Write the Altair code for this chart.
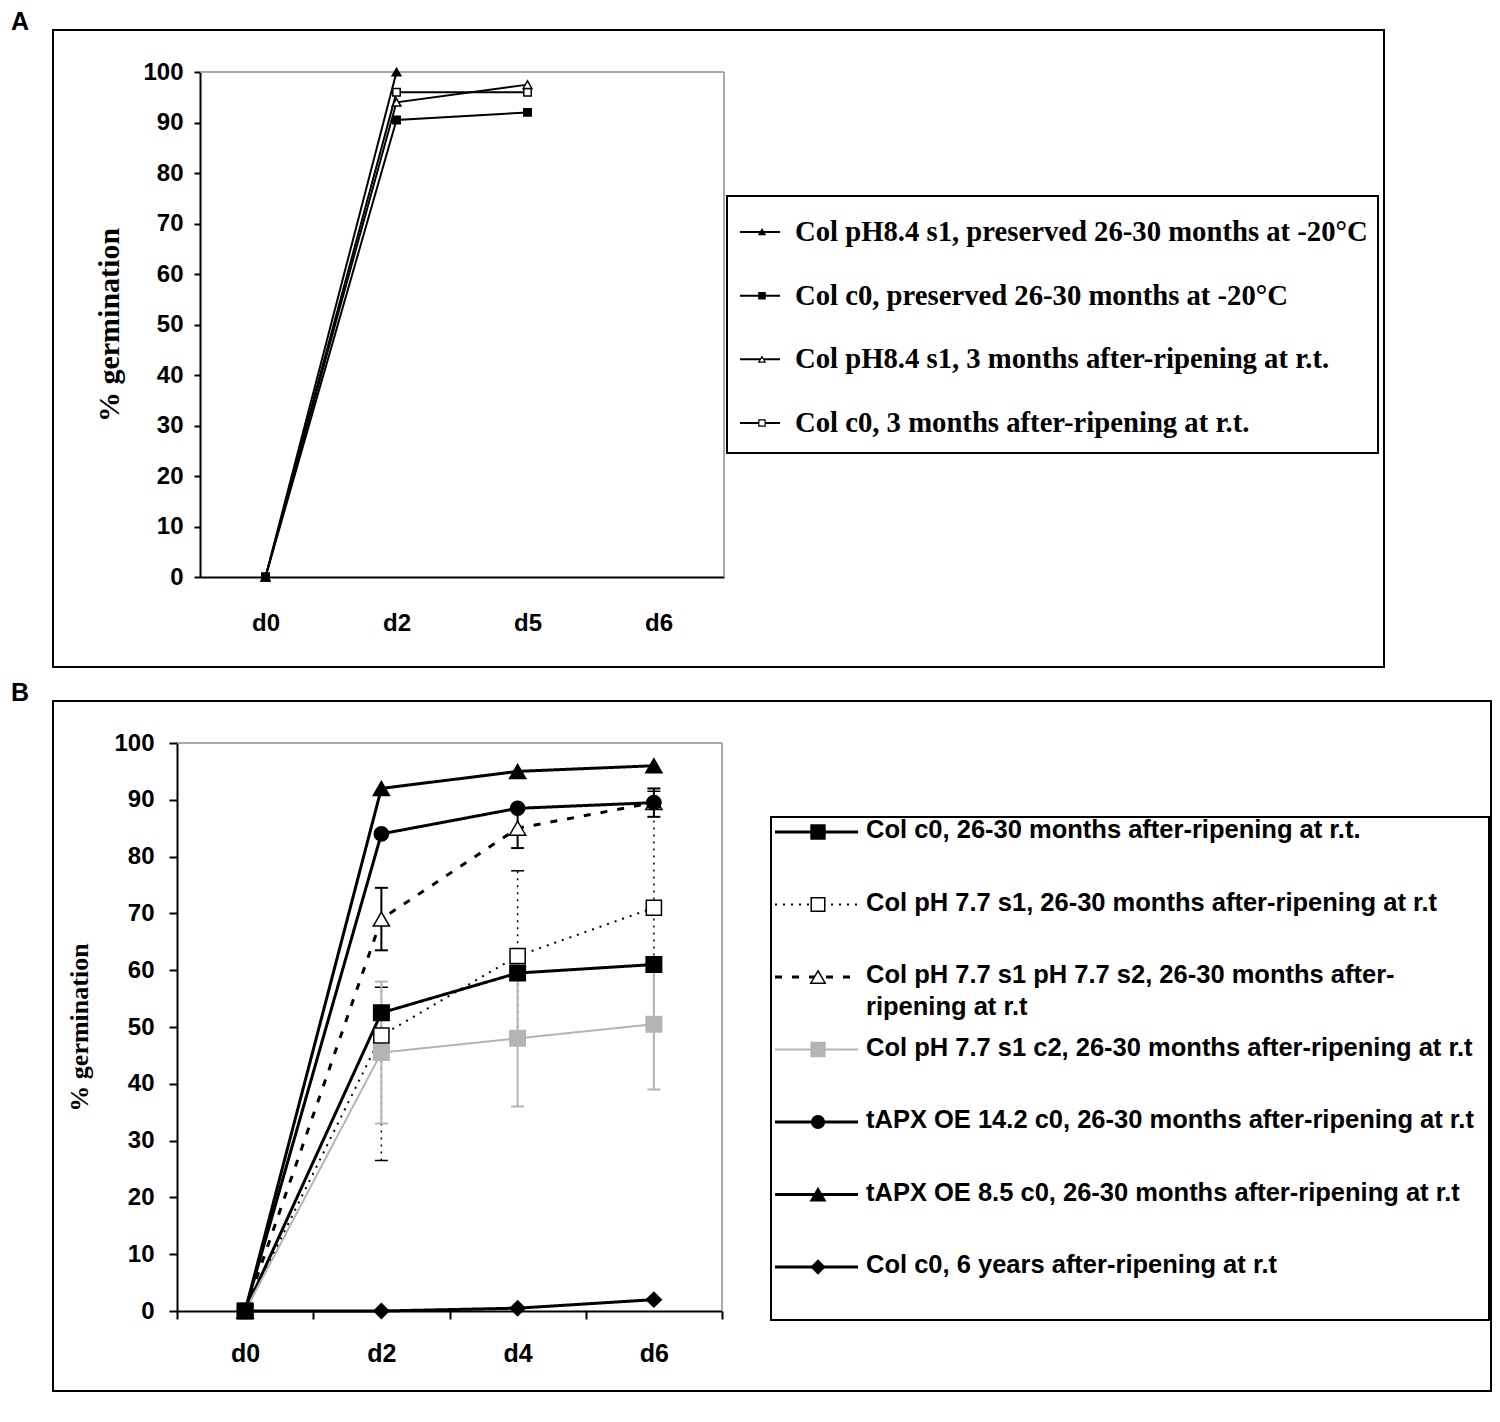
import altair as alt
import pandas as pd

# ---------------- data ----------------
A_DAYS = ["d0", "d2", "d5", "d6"]
A_SERIES = [
    "Col pH8.4 s1,  preserved 26-30 months at -20°C",
    "Col c0,  preserved 26-30 months at -20°C",
    "Col pH8.4 s1,  3 months after-ripening at r.t.",
    "Col c0, 3 months after-ripening at r.t.",
]
A_VALUES = [
    [0, 100],
    [0, 90.5, 92],
    [0, 94, 97.5],
    [0, 96, 96],
]

B_DAYS = ["d0", "d2", "d4", "d6"]
B_SERIES = [
    "Col c0, 26-30 months after-ripening at r.t.",
    "Col  pH 7.7 s1, 26-30 months after-ripening at r.t",
    "Col pH 7.7 s1 pH 7.7 s2,  26-30 months after-\nripening at r.t",
    "Col pH 7.7 s1 c2, 26-30 months after-ripening at r.t",
    "tAPX OE 14.2 c0,  26-30 months after-ripening at r.t",
    "tAPX OE 8.5 c0, 26-30 months after-ripening at r.t",
    "Col c0, 6 years after-ripening at r.t",
]
B_VALUES = [
    [0, 52.5, 59.5, 61],
    [0, 48.5, 62.5, 71],
    [0, 69, 85, 89.5],
    [0, 45.5, 48, 50.5],
    [0, 84, 88.5, 89.5],
    [0, 92, 95, 96],
    [0, 0, 0.5, 2],
]
B_ERR_DAYS = ["d2", "d4", "d6"]
B_ERR_SERIES = [1, 2, 3]
B_ERR_LOW = [
    [26.5, 47.5, 51.5],
    [63.5, 81.5, 87],
    [33, 36, 39],
]
B_ERR_HIGH = [
    [57, 77.5, 91.5],
    [74.5, 88.5, 92],
    [58, 60, 62],
]

# ---------------- styles ----------------
SANS = "Liberation Sans, Arial, sans-serif"
SERIF = "Liberation Serif, Times New Roman, serif"
GRAY = "#b4b4b4"
FRAMEGRAY = "#8c8c8c"

A_STYLE = [
    dict(shape="triangle-up", fill="black", size=75),
    dict(shape="square", fill="black", size=55),
    dict(shape="triangle-up", fill="white", size=75),
    dict(shape="square", fill="white", size=55),
]
A_POINT_ORDER = [3, 2, 0, 1]
B_STYLE = [
    dict(shape="square", fill="black", stroke="black", size=240, lw=3, dash=[1, 0]),
    dict(shape="square", fill="white", stroke="black", size=230, lw=2, dash=[2, 6]),
    dict(shape="triangle-up", fill="white", stroke="black", size=260, lw=3, dash=[7, 10]),
    dict(shape="square", fill=GRAY, stroke=GRAY, size=240, lw=2, dash=[1, 0]),
    dict(shape="circle", fill="black", stroke="black", size=200, lw=3, dash=[1, 0]),
    dict(shape="triangle-up", fill="black", stroke="black", size=260, lw=3, dash=[1, 0]),
    dict(shape="diamond", fill="black", stroke="black", size=220, lw=3, dash=[1, 0]),
]
B_POINT_ORDER = [3, 1, 2, 4, 5, 6, 0]
B_ERR_STYLE = [
    dict(color="black", lw=1.5, dash=[2, 5]),
    dict(color="black", lw=2, dash=[1, 0]),
    dict(color=GRAY, lw=2, dash=[1, 0]),
]

one = pd.DataFrame({"k": [0]})

# ---------------- panel A ----------------
A_W, A_H = 1331, 637
AX0, AX1, AY0, AY1 = 147, 671, 42, 547   # plot area inside panel

xA = alt.X(
    "day:N", sort=A_DAYS,
    scale=alt.Scale(type="point", domain=A_DAYS, range=[AX0, AX1], padding=0.5),
    axis=alt.Axis(title=None, ticks=False, tickSize=0, labelPadding=34, labelAngle=0,
                  labelFont=SANS, labelFontSize=24, labelFontWeight="bold", labelColor="black",
                  domainColor="black", domainWidth=2, offset=-(A_H - AY1), grid=False),
)
yA = alt.Y(
    "pct:Q",
    scale=alt.Scale(domain=[0, 100], range=[AY1, AY0], nice=False),
    axis=alt.Axis(title="% germination", values=list(range(0, 101, 10)), offset=-AX0,
                  tickSize=6, tickWidth=2, tickColor="black", labelPadding=11,
                  labelFont=SANS, labelFontSize=24, labelFontWeight="bold", labelColor="black",
                  domainColor="black", domainWidth=2, grid=False,
                  titleFont=SERIF, titleFontSize=30, titleFontWeight="bold", titleColor="black",
                  titlePadding=18),
)

a_layers = [
    alt.Chart(one).mark_rule(color=FRAMEGRAY, strokeWidth=1.5).encode(
        x=alt.value(AX0), x2=alt.value(AX1), y=alt.value(AY0)),
    alt.Chart(one).mark_rule(color=FRAMEGRAY, strokeWidth=1.5).encode(
        x=alt.value(AX1), y=alt.value(AY0), y2=alt.value(AY1)),
]
for name, vals, st in zip(A_SERIES, A_VALUES, A_STYLE):
    df = pd.DataFrame({"day": A_DAYS[:len(vals)], "pct": vals, "series": name})
    a_layers.append(alt.Chart(df).mark_line(color="black", strokeWidth=2).encode(x=xA, y=yA))
for i in A_POINT_ORDER:
    vals, st = A_VALUES[i], A_STYLE[i]
    df = pd.DataFrame({"day": A_DAYS[:len(vals)], "pct": vals, "series": A_SERIES[i]})
    a_layers.append(alt.Chart(df).mark_point(
        filled=True, shape=st["shape"], fill=st["fill"], stroke="black", strokeWidth=1.5,
        size=st["size"], opacity=1).encode(x=xA, y=yA))
plotA = alt.layer(*a_layers)

# legend A
rowA = alt.Y("row:O", scale=alt.Scale(type="point", domain=[0, 1, 2, 3], range=[202, 393], padding=0),
             axis=None)
legA_layers = [
    alt.Chart(one).mark_rect(fill="white", stroke="black", strokeWidth=2).encode(
        x=alt.value(674), x2=alt.value(1325), y=alt.value(166), y2=alt.value(423)),
]
for i, (name, st) in enumerate(zip(A_SERIES, A_STYLE)):
    d = pd.DataFrame({"row": [i], "label": [name]})
    legA_layers.append(alt.Chart(d).mark_rule(color="black", strokeWidth=2).encode(
        x=alt.value(687), x2=alt.value(727), y=rowA))
    legA_layers.append(alt.Chart(d).mark_point(
        filled=True, shape=st["shape"], fill=st["fill"], stroke="black", strokeWidth=1.2,
        size=40, opacity=1).encode(x=alt.value(709), y=rowA))
legA_df = pd.DataFrame({"row": list(range(len(A_SERIES))), "label": A_SERIES})
legA_layers.append(alt.Chart(legA_df).mark_text(
    align="left", baseline="middle", font=SERIF, fontSize=28.7, fontWeight="bold",
    color="black").encode(x=alt.value(742), y=rowA, text="label:N"))
legendA = alt.layer(*legA_layers)

panelA = alt.layer(plotA, legendA).resolve_scale(x="independent", y="independent").properties(
    width=A_W, height=A_H,
    title=alt.TitleParams("A", anchor="start", dx=-42, fontSize=25, font=SANS,
                          fontWeight="bold", color="black", offset=-5),
)

# ---------------- panel B ----------------
B_W, B_H = 1438, 690
BX0, BX1, BY0, BY1 = 124, 669, 42, 610

xB = alt.X(
    "day:N", sort=B_DAYS, bandPosition=0.5,
    scale=alt.Scale(type="band", domain=B_DAYS, range=[BX0, BX1], paddingInner=0, paddingOuter=0),
    axis=alt.Axis(title=None, tickBand="extent", tickSize=8, tickWidth=2, tickColor="black",
                  labelPadding=22, labelAngle=0,
                  labelFont=SANS, labelFontSize=25, labelFontWeight="bold", labelColor="black",
                  domainColor="black", domainWidth=2, offset=-(B_H - BY1), grid=False),
)
yB_scale = alt.Scale(domain=[0, 100], range=[BY1, BY0], nice=False)
yB_axis = alt.Axis(title="% germination", values=list(range(0, 101, 10)), offset=-BX0,
                   tickSize=8, tickWidth=2, tickColor="black", labelPadding=15,
                   labelFont=SANS, labelFontSize=24, labelFontWeight="bold", labelColor="black",
                   domainColor="black", domainWidth=2, grid=False,
                   titleFont=SERIF, titleFontSize=26, titleFontWeight="bold", titleColor="black",
                   titlePadding=21)
yB = alt.Y("pct:Q", scale=yB_scale, axis=yB_axis)
yLo = alt.Y("lo:Q", scale=yB_scale, axis=yB_axis)
yHi = alt.Y("hi:Q", scale=yB_scale, axis=yB_axis)

b_layers = [
    alt.Chart(one).mark_rule(color=FRAMEGRAY, strokeWidth=1.5).encode(
        x=alt.value(BX0), x2=alt.value(BX1), y=alt.value(BY0)),
    alt.Chart(one).mark_rule(color=FRAMEGRAY, strokeWidth=1.5).encode(
        x=alt.value(BX1), y=alt.value(BY0), y2=alt.value(BY1)),
]
for si, lows, highs, st in zip(B_ERR_SERIES, B_ERR_LOW, B_ERR_HIGH, B_ERR_STYLE):
    df = pd.DataFrame({"day": B_ERR_DAYS, "lo": lows, "hi": highs})
    base = alt.Chart(df)
    b_layers.append(base.mark_rule(color=st["color"], strokeWidth=st["lw"], strokeDash=st["dash"]).encode(
        x=xB, y=yLo, y2="hi:Q"))
    b_layers.append(base.mark_tick(color=st["color"], thickness=st["lw"], size=13, opacity=1).encode(
        x=xB, y=yLo))
    b_layers.append(base.mark_tick(color=st["color"], thickness=st["lw"], size=13, opacity=1).encode(
        x=xB, y=yHi))
for name, vals, st in zip(B_SERIES, B_VALUES, B_STYLE):
    df = pd.DataFrame({"day": B_DAYS, "pct": vals})
    b_layers.append(alt.Chart(df).mark_line(color=st["stroke"], strokeWidth=st["lw"],
                                            strokeDash=st["dash"]).encode(x=xB, y=yB))
for i in B_POINT_ORDER:
    vals, st = B_VALUES[i], B_STYLE[i]
    df = pd.DataFrame({"day": B_DAYS, "pct": vals})
    b_layers.append(alt.Chart(df).mark_point(
        filled=True, shape=st["shape"], fill=st["fill"], stroke=st["stroke"], strokeWidth=1.5,
        size=st["size"], opacity=1).encode(x=xB, y=yB))
plotB = alt.layer(*b_layers)

rowB = alt.Y("row:O", scale=alt.Scale(type="point", domain=list(range(7)), range=[131, 566], padding=0),
             axis=None)
legB_layers = [
    alt.Chart(one).mark_rect(fill="white", stroke="black", strokeWidth=2).encode(
        x=alt.value(718), x2=alt.value(1436), y=alt.value(116), y2=alt.value(619)),
]
for i, (name, st) in enumerate(zip(B_SERIES, B_STYLE)):
    d = pd.DataFrame({"row": [i]})
    legB_layers.append(alt.Chart(d).mark_rule(color=st["stroke"], strokeWidth=st["lw"],
                                              strokeDash=st["dash"]).encode(
        x=alt.value(722), x2=alt.value(805), y=rowB))
    legB_layers.append(alt.Chart(d).mark_point(
        filled=True, shape=st["shape"], fill=st["fill"], stroke=st["stroke"], strokeWidth=1.5,
        size=st["size"] * 0.8, opacity=1).encode(x=alt.value(765), y=rowB))
legB_df = pd.DataFrame({"row": list(range(len(B_SERIES))), "label": B_SERIES})
legB_layers.append(alt.Chart(legB_df).mark_text(
    align="left", baseline="top", dy=-14, lineBreak="\n", lineHeight=32,
    font=SANS, fontSize=25.5, fontWeight="bold", color="black").encode(
    x=alt.value(813), y=rowB, text="label:N"))
legendB = alt.layer(*legB_layers)

panelB = alt.layer(plotB, legendB).resolve_scale(x="independent", y="independent").properties(
    width=B_W, height=B_H,
    title=alt.TitleParams("B", anchor="start", dx=-42, fontSize=25, font=SANS,
                          fontWeight="bold", color="black", offset=-5),
)

chart = alt.vconcat(panelA, panelB, spacing=12).properties(
    padding={"left": 2, "top": 1, "right": 0, "bottom": 0},
    background="white",
).configure_view(stroke="black", strokeWidth=2)

chart.save("out.html", embed_options={"renderer": "svg", "actions": False})
